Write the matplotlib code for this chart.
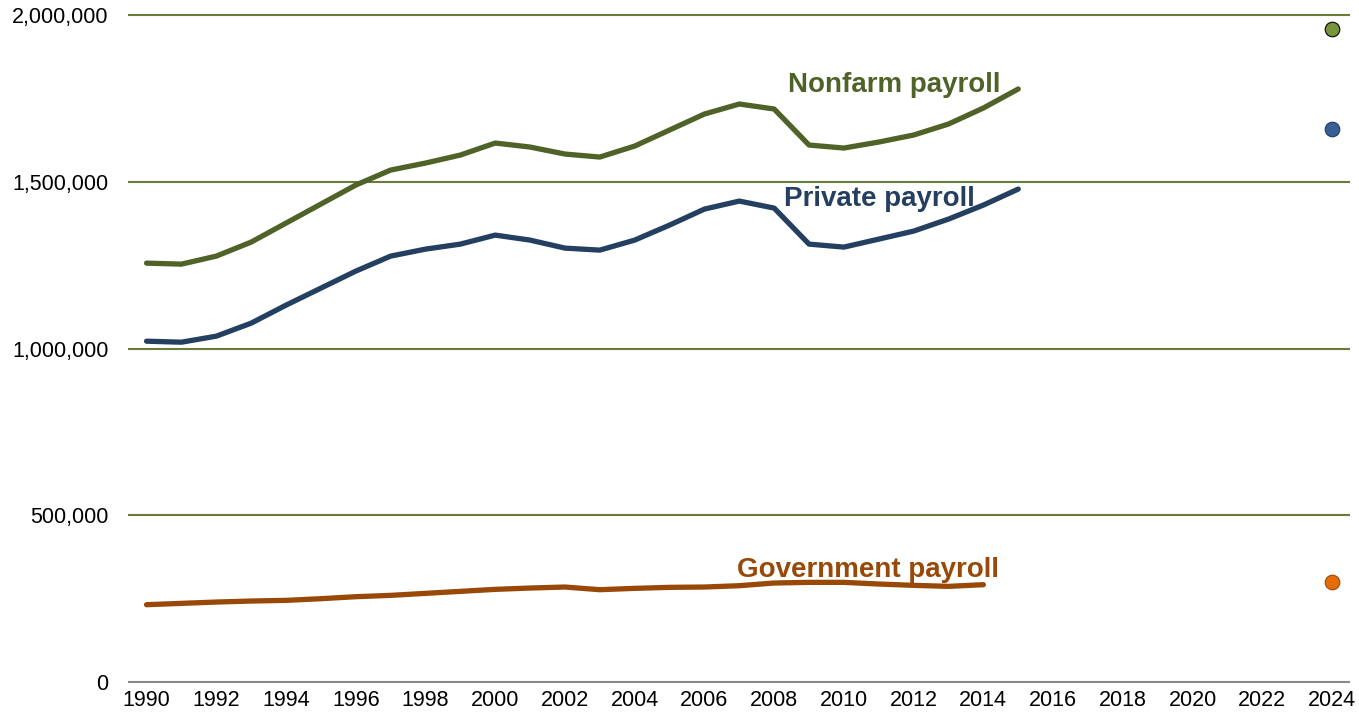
import matplotlib.pyplot as plt
import numpy as np

plt.rcParams['font.family'] = ['Liberation Sans', 'DejaVu Sans']

years = list(range(1990, 2016))
nonfarm = [1256000, 1253000, 1277000, 1319000, 1376000, 1433000, 1490000, 1535000,
           1556000, 1580000, 1616000, 1604000, 1583000, 1574000, 1607000, 1655000,
           1703000, 1733000, 1718000, 1610000, 1601000, 1619000, 1640000, 1673000,
           1721000, 1778000]
private = [1022000, 1019000, 1037000, 1076000, 1130000, 1181000, 1232000, 1277000,
           1298000, 1313000, 1340000, 1325000, 1301000, 1295000, 1325000, 1370000,
           1418000, 1442000, 1421000, 1313000, 1304000, 1328000, 1352000, 1388000,
           1430000, 1478000]
gov_years = list(range(1990, 2015))
government = [232000, 236000, 240000, 243000, 245000, 250000, 256000, 260000,
              266000, 272000, 278000, 282000, 285000, 277000, 281000, 284000,
              285000, 289000, 297000, 299000, 299000, 294000, 290000, 287000,
              292000]

proj_year = 2024
proj_nonfarm = 1958000
proj_private = 1658000
proj_government = 300000

fig = plt.figure(figsize=(13.59, 7.12), dpi=100)
ax = fig.add_axes([0.095, 0.042, 0.898, 0.937])

green = '#4F6228'
blue = '#243F60'
brown = '#984807'

ax.plot(years, nonfarm, color=green, lw=3.8, solid_capstyle='round', zorder=3)
ax.plot(years, private, color=blue, lw=3.8, solid_capstyle='round', zorder=3)
ax.plot(gov_years, government, color=brown, lw=3.8, solid_capstyle='round', zorder=3)

ax.plot([proj_year], [proj_nonfarm], 'o', color='#77933C', mec='black', mew=0.8, ms=10.5, zorder=4)
ax.plot([proj_year], [proj_private], 'o', color='#376092', mec='#1F3864', mew=0.8, ms=10.5, zorder=4)
ax.plot([proj_year], [proj_government], 'o', color='#E46C0A', mec='#984807', mew=0.8, ms=10.5, zorder=4)

ax.text(2014.5, 1769000, 'Nonfarm payroll', color=green, fontsize=20, fontweight='bold',
        ha='right', va='baseline')
ax.text(2013.75, 1428000, 'Private payroll', color=blue, fontsize=20, fontweight='bold',
        ha='right', va='baseline')
ax.text(2014.45, 315000, 'Government payroll', color=brown, fontsize=20, fontweight='bold',
        ha='right', va='baseline')

ax.set_xlim(1989.5, 2024.5)
ax.set_ylim(0, 2000000)
ax.set_xticks(range(1990, 2025, 2))
ax.set_yticks([0, 500000, 1000000, 1500000, 2000000])
ax.set_yticklabels(['0', '500,000', '1,000,000', '1,500,000', '2,000,000'])
ax.tick_params(axis='both', length=0, labelsize=15.5)
ax.tick_params(axis='y', pad=15)
ax.tick_params(axis='x', pad=6)

for v in [500000, 1000000, 1500000, 2000000]:
    ax.axhline(v, color='#6B7B3A', lw=1.5, zorder=1, clip_on=False)

for s in ['top', 'right', 'left']:
    ax.spines[s].set_visible(False)
ax.spines['bottom'].set_color('#888888')
ax.spines['bottom'].set_linewidth(1.5)

fig.savefig('out.png', dpi=100)
